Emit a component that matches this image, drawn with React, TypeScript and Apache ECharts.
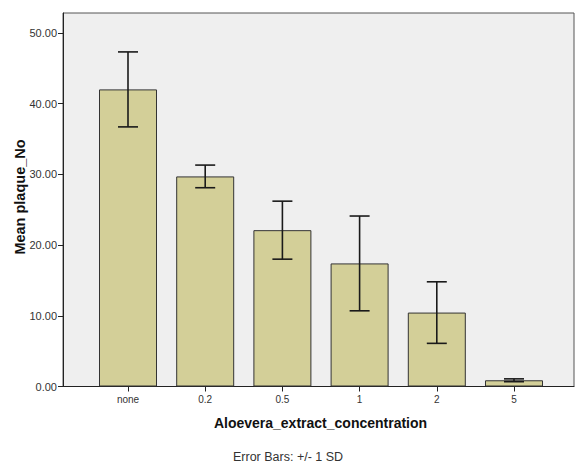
import React, { useEffect, useRef } from "react";
import * as echarts from "echarts";

const categories = ["none", "0.2", "0.5", "1", "2", "5"];
const means = [42.0, 29.7, 22.1, 17.4, 10.45, 0.88];
const sds = [5.3, 1.6, 4.1, 6.7, 4.35, 0.2];
const yTicks = { min: 0, max: 52.8, interval: 10 };
const xTitle = "Aloevera_extract_concentration";
const yTitle = "Mean plaque_No";
const note = "Error Bars: +/- 1 SD";

const FONT = "Liberation Sans, Arial, sans-serif";

export default function App() {
  const ref = useRef<HTMLDivElement>(null);
  useEffect(() => {
    if (!ref.current) return;
    const chart = echarts.init(ref.current, null, { renderer: "svg" });
    const errData = means.map((m, i) => [i, m - sds[i], m + sds[i]]);
    chart.setOption({
      animation: false,
      backgroundColor: "#ffffff",
      textStyle: { fontFamily: FONT },
      grid: [
        { left: 63, right: 1, top: 13, bottom: 80.5, show: true, backgroundColor: "#efefef", borderColor: "#555", borderWidth: 1 },
        { left: 89.4, right: 22.4, top: 13, bottom: 80.5 },
      ],
      xAxis: [
        {
          type: "value", gridIndex: 0, min: 0, max: 1,
          axisLine: { show: true, onZero: false, lineStyle: { color: "#222", width: 1 } },
          axisTick: { show: false }, axisLabel: { show: false }, splitLine: { show: false },
        },
        {
          type: "category", gridIndex: 1, data: categories,
          axisLine: { show: false },
          axisTick: { show: true, alignWithLabel: true, length: 5, lineStyle: { color: "#222" } },
          axisLabel: { color: "#333", fontSize: 10, margin: 8, fontFamily: FONT },
        },
      ],
      yAxis: [
        {
          type: "value", gridIndex: 0, min: yTicks.min, max: yTicks.max, interval: yTicks.interval,
          axisLine: { show: true, lineStyle: { color: "#222", width: 1 } },
          axisTick: { show: true, length: 5, lineStyle: { color: "#222" } },
          axisLabel: { color: "#333", fontSize: 11, margin: 6, fontFamily: FONT, showMaxLabel: false, formatter: (v: number) => v.toFixed(2) },
          splitLine: { show: false },
        },
        {
          type: "value", gridIndex: 1, min: yTicks.min, max: yTicks.max,
          show: false, splitLine: { show: false },
        },
      ],
      series: [
        {
          type: "bar", xAxisIndex: 1, yAxisIndex: 1, data: means, barWidth: 58,
          itemStyle: { color: "#d3cf98", borderColor: "#333", borderWidth: 1 },
          z: 2,
        },
        {
          type: "custom", xAxisIndex: 1, yAxisIndex: 1, data: errData, z: 3,
          renderItem: (params: any, api: any) => {
            const x = api.value(0);
            const lo = api.coord([x, api.value(1)]);
            const hi = api.coord([x, api.value(2)]);
            const half = 10;
            const style = { stroke: "#1a1a1a", lineWidth: 1.6 };
            return {
              type: "group",
              children: [
                { type: "line", shape: { x1: hi[0], y1: hi[1], x2: lo[0], y2: lo[1] }, style },
                { type: "line", shape: { x1: hi[0] - half, y1: hi[1], x2: hi[0] + half, y2: hi[1] }, style },
                { type: "line", shape: { x1: lo[0] - half, y1: lo[1], x2: lo[0] + half, y2: lo[1] }, style },
              ],
            };
          },
        },
      ],
      graphic: [
        {
          type: "text", x: 320.5, y: 423,
          style: { text: xTitle, fontSize: 14, fontWeight: "bold", fill: "#111", fontFamily: FONT, align: "center", verticalAlign: "middle" },
        },
        {
          type: "text", x: 20, y: 197, rotation: Math.PI / 2,
          style: { text: yTitle, fontSize: 14.5, fontWeight: "bold", fill: "#111", fontFamily: FONT, align: "center", verticalAlign: "middle" },
        },
        {
          type: "text", x: 233, y: 457,
          style: { text: note, fontSize: 12.5, fill: "#333", fontFamily: FONT, align: "left", verticalAlign: "middle" },
        },
      ],
    });
    return () => chart.dispose();
  }, []);
  return <div ref={ref} style={{ position: "fixed", left: 0, top: 0, width: 575, height: 467 }} />;
}
